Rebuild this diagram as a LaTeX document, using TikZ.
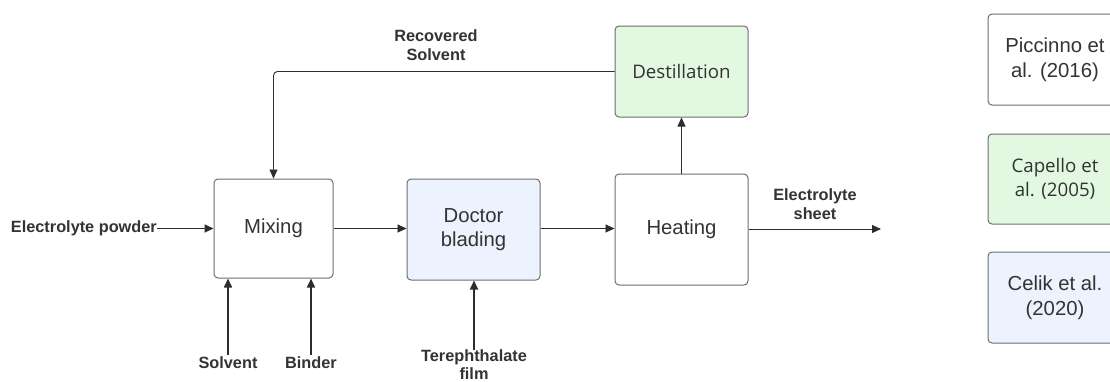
\documentclass[tikz,border=0pt]{standalone}
\usepackage{fontspec}
\setmainfont{Liberation Sans}
\newfontfamily\opensans{Open Sans}
\usetikzlibrary{arrows.meta}
\definecolor{edge}{HTML}{6E6E70}
\definecolor{ink}{HTML}{2B2D33}
\definecolor{txt}{HTML}{333333}
\definecolor{greenfill}{HTML}{E2F8E1}
\definecolor{bluefill}{HTML}{ECF3FE}
\tikzset{
  procbox/.style={draw=edge, line width=1pt, rounded corners=4pt, text=txt,
    align=center, inner sep=0pt, font=\fontsize{20.3}{24.5}\selectfont},
  osfont/.style={font=\opensans\fontsize{18.7}{24}\selectfont},
  flow/.style={draw=ink, line width=0.9pt, -{Triangle[length=9pt,width=8pt]}},
  feed/.style={draw=ink, line width=1.6pt, -{Triangle[length=9pt,width=8pt]}},
  lbl/.style={text=txt, align=center, inner sep=0pt,
    font=\bfseries\fontsize{16.3}{19}\selectfont}
}
\begin{document}
\begin{tikzpicture}[x=1pt,y=-1pt]
\useasboundingbox[fill=white] (0,0) rectangle (1110,381);

% process boxes
\node[procbox, minimum width=119pt, minimum height=99pt] (mix) at (273.5,228.5) {Mixing};
\node[procbox, fill=bluefill, minimum width=133pt, minimum height=101pt] (doc) at (473.5,229.5) {Doctor\\blading};
\node[procbox, minimum width=133pt, minimum height=111pt] (heat) at (681.5,229.5) {Heating};
\node[procbox, osfont, fill=greenfill, minimum width=133pt, minimum height=91pt] (dest) at (681.5,71.5) {Destillation};

% source boxes on the right
\node[procbox, minimum width=134pt, minimum height=91pt] (ref1) at (1055,59.5) {Piccinno et\\al. (2016)};
\node[procbox, osfont, fill=greenfill, minimum width=134pt, minimum height=90pt] (ref2) at (1055,179) {Capello et\\al. (2005)};
\node[procbox, fill=bluefill, minimum width=134pt, minimum height=91pt] (ref3) at (1055,297.5) {Celik et al.\\(2020)};

% labels
\node[lbl, anchor=east] (powder) at (157,228.5) {Electrolyte powder};
\node[lbl] (solv) at (228,362.5) {Solvent};
\node[lbl] (bind) at (311,362.5) {Binder};
\node[lbl, font=\bfseries\fontsize{16.3}{17.5}\selectfont] (film) at (474,364.5) {Terephthalate\\film};
\node[lbl] (rec) at (436,45.5) {Recovered\\Solvent};
\node[lbl] (sheet) at (815,204) {Electrolyte\\sheet};
\coordinate (out) at (881,229);
\coordinate (solvtop) at (228,355);
\coordinate (bindtop) at (311,355);
\coordinate (filmtop) at (474,350);

% main flow
\draw[flow] (mix.east) -- (mix.east -| doc.west);
\draw[flow] (doc.east |- mix.east) -- (heat.west |- mix.east);
\draw[flow] (heat.east |- out) -- (out);
\draw[flow] (heat.north) -- (dest.south);
\draw[flow, rounded corners=4pt] (dest.west) -- (dest.west -| mix.north) -- (mix.north);

% feeds
\draw[feed] (powder.east) -- (mix.west);
\draw[feed] (solvtop) -- (solvtop |- mix.south);
\draw[feed] (bindtop) -- (bindtop |- mix.south);
\draw[feed] (filmtop) -- (filmtop |- doc.south);
\end{tikzpicture}
\end{document}
